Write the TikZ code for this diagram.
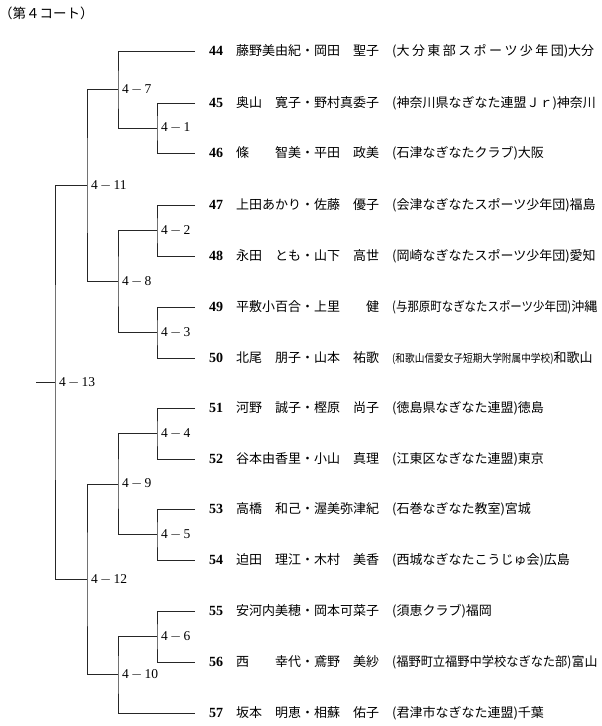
\documentclass[tikz,border=0pt]{standalone}
\usepackage{fontspec}
\newfontfamily\jpfont{Noto Sans CJK JP}
\newfontfamily\numfont{Liberation Serif}
\newcommand\clubtxt[3]{\scalebox{#1}[1]{#2}#3}
\newcommand\spreadclub{\makebox[176pt][l]{(大\hfill 分\hfill 東\hfill 部\hfill ス\hfill ポ\hfill ー\hfill ツ\hfill 少\hfill 年\hfill 団)}}
\newcommand\mlabel[2]{#1\,\(-\)\,#2}
\tikzset{
  br/.style={line width=0.8pt, draw=black!85},
  lbl/.style={anchor=west, inner sep=0pt, xshift=4pt, font=\numfont\fontsize{13.5}{15}\selectfont},
  numtxt/.style={anchor=west, inner sep=0pt, font=\numfont\bfseries\fontsize{14}{16}\selectfont},
  nametxt/.style={anchor=west, inner sep=0pt, font=\jpfont\fontsize{13}{15}\selectfont},
  titletxt/.style={anchor=west, inner sep=0pt, font=\jpfont\fontsize{13.5}{15}\selectfont},
}
\begin{document}
\begin{tikzpicture}[x=1pt,y=-1pt]
\useasboundingbox (0,0) rectangle (602,726);
\node[titletxt] (title) at (-1,13) {（第４コート）};
% player rows
\foreach \n/\y/\nm/\cl/\pf/\sx in {
 44/51/藤野美由紀・岡田　聖子/{\spreadclub}/大分/1,
 45/103/奥山　寛子・野村真委子/(神奈川県なぎなた連盟Ｊｒ)/神奈川/1,
 46/153/條　　智美・平田　政美/(石津なぎなたクラブ)/大阪/1,
 47/205/上田あかり・佐藤　優子/(会津なぎなたスポーツ少年団)/福島/1,
 48/256/永田　とも・山下　高世/(岡崎なぎなたスポーツ少年団)/愛知/1,
 49/307/平敷小百合・上里　　健/(与那原町なぎなたスポーツ少年団)/沖縄/0.88,
 50/358/北尾　朋子・山本　祐歌/{\fontsize{11}{13}\selectfont(和歌山信愛女子短期大学附属中学校)}/和歌山/0.88,
 51/408/河野　誠子・樫原　尚子/(徳島県なぎなた連盟)/徳島/1,
 52/459/谷本由香里・小山　真理/(江東区なぎなた連盟)/東京/1,
 53/509/高橋　和己・渥美弥津紀/(石巻なぎなた教室)/宮城/1,
 54/560/迫田　理江・木村　美香/(西城なぎなたこうじゅ会)/広島/1,
 55/611/安河内美穂・岡本可菜子/(須恵クラブ)/福岡/1,
 56/662/西　　幸代・鳶野　美紗/(福野町立福野中学校なぎなた部)/富山/0.94,
 57/713/坂本　明恵・相蘇　佑子/(君津市なぎなた連盟)/千葉/1}{
  \coordinate (p\n) at (195,\y);
  \node[numtxt] (num\n) at (209,\y) {\n};
  \node[nametxt] (name\n) at (236,\y) {\nm};
  \node[nametxt] (club\n) at (392,\y) {\clubtxt{\sx}{\cl}{\pf}};
}
% match junctions
\coordinate (m1) at (157,128);
\coordinate (m2) at (157,230.5);
\coordinate (m3) at (157,332.5);
\coordinate (m4) at (157,433.5);
\coordinate (m5) at (157,534.5);
\coordinate (m6) at (157,636.5);
\coordinate (m7) at (118,89.5);
\coordinate (m8) at (118,281.5);
\coordinate (m9) at (118,484);
\coordinate (m10) at (118,674.75);
\coordinate (m11) at (87,185.5);
\coordinate (m12) at (87,579.4);
\coordinate (m13) at (55,382.5);
\coordinate (root) at (36,382.5);
% brackets
\draw[br] (p45) -| (m1) |- (p46);
\draw[br] (p47) -| (m2) |- (p48);
\draw[br] (p49) -| (m3) |- (p50);
\draw[br] (p51) -| (m4) |- (p52);
\draw[br] (p53) -| (m5) |- (p54);
\draw[br] (p55) -| (m6) |- (p56);
\draw[br] (p44) -| (m7) |- (m1);
\draw[br] (m2) -| (m8) |- (m3);
\draw[br] (m4) -| (m9) |- (m5);
\draw[br] (m6) -| (m10) |- (p57);
\draw[br] (m7) -| (m11) |- (m8);
\draw[br] (m9) -| (m12) |- (m10);
\draw[br] (m11) -| (m13) |- (m12);
\draw[br] (root) -- (m13);
% labels
\node[lbl] (l1) at (m1) {\mlabel{4}{1}};
\node[lbl] (l2) at (m2) {\mlabel{4}{2}};
\node[lbl] (l3) at (m3) {\mlabel{4}{3}};
\node[lbl] (l4) at (m4) {\mlabel{4}{4}};
\node[lbl] (l5) at (m5) {\mlabel{4}{5}};
\node[lbl] (l6) at (m6) {\mlabel{4}{6}};
\node[lbl] (l7) at (m7) {\mlabel{4}{7}};
\node[lbl] (l8) at (m8) {\mlabel{4}{8}};
\node[lbl] (l9) at (m9) {\mlabel{4}{9}};
\node[lbl] (l10) at (m10) {\mlabel{4}{10}};
\node[lbl] (l11) at (m11) {\mlabel{4}{11}};
\node[lbl] (l12) at (m12) {\mlabel{4}{12}};
\node[lbl] (l13) at (m13) {\mlabel{4}{13}};
\end{tikzpicture}
\end{document}
